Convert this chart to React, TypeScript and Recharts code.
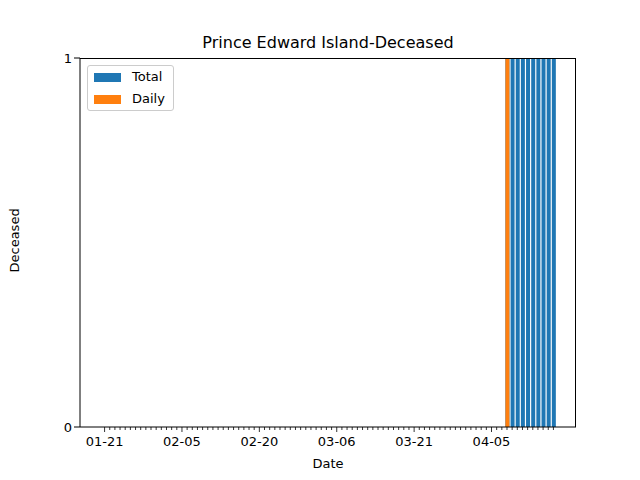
import { Bar, BarChart, XAxis, YAxis } from "recharts";

// 2020-01-21 .. 2020-04-17, one entry per day
const dates: string[] = [];
for (let d = new Date(Date.UTC(2020, 0, 21)); d <= new Date(Date.UTC(2020, 3, 17)); d.setUTCDate(d.getUTCDate() + 1)) {
  dates.push(`${String(d.getUTCMonth() + 1).padStart(2, "0")}-${String(d.getUTCDate()).padStart(2, "0")}`);
}
const firstDeath = dates.indexOf("04-08");
const total = dates.map((_, i) => (i >= firstDeath ? 1 : 0));
const daily = dates.map((_, i) => (i === firstDeath ? 1 : 0));
const labelEvery = 15;

const data = dates.map((date, i) => ({ date, total: total[i], daily: daily[i] }));

const font = "DejaVu Sans, sans-serif";

const DateTick = (props: any) => {
  const { x, y, payload, index } = props;
  const major = index % labelEvery === 0;
  return (
    <g>
      <line x1={x} x2={x} y1={y - 8} y2={y - 8 + (major ? 5 : 3)} stroke="#000" strokeWidth={0.8} />
      {major && (
        <text x={x} y={y + 11} textAnchor="middle" fontSize={13} fontFamily={font} fill="#000">
          {payload.value}
        </text>
      )}
    </g>
  );
};

const legendItems = [
  ["Total", "#1f77b4"],
  ["Daily", "#ff7f0e"],
];

export default function App() {
  return (
    <div style={{ position: "relative", width: 640, height: 480, margin: -8, background: "#fff" }}>
      <div
        style={{
          position: "absolute",
          top: 33,
          left: 80,
          width: 496,
          textAlign: "center",
          fontFamily: font,
          fontSize: 16,
        }}
      >
        Prince Edward Island-Deceased
      </div>
      <BarChart width={640} height={480} data={data} margin={{ top: 58, right: 64, left: 0, bottom: 0 }}>
        <XAxis
          xAxisId="a"
          dataKey="date"
          height={53}
          interval={0}
          tick={<DateTick />}
          tickLine={false}
          padding={{ left: 22, right: 20 }}
          stroke="#000"
          label={{ value: "Date", position: "insideBottom", offset: 12, fill: "#000", fontSize: 13, fontFamily: font }}
        />
        <XAxis xAxisId="b" dataKey="date" hide padding={{ left: 22, right: 20 }} />
        <YAxis
          width={80}
          domain={[0, 1]}
          ticks={[0, 1]}
          stroke="#000"
          tick={{ fill: "#000", fontSize: 13, fontFamily: font }}
          label={{ value: "Deceased", angle: -90, position: "insideLeft", offset: 14, fill: "#000", fontSize: 13, fontFamily: font, dy: 30 }}
        />
        <Bar xAxisId="a" dataKey="total" fill="#1f77b4" barSize={4} isAnimationActive={false} />
        <Bar xAxisId="b" dataKey="daily" fill="#ff7f0e" barSize={4} isAnimationActive={false} />
      </BarChart>
      <div style={{ position: "absolute", top: 58, left: 575, width: 0, height: 369, borderRight: "1px solid #000" }} />
      <div style={{ position: "absolute", top: 58, left: 80, width: 496, height: 0, borderTop: "1px solid #000" }} />
      <div
        style={{
          position: "absolute",
          top: 65,
          left: 87,
          border: "1px solid #ccc",
          borderRadius: 3,
          background: "#fff",
          padding: "0px 8px 0 6px",
          fontFamily: font,
          fontSize: 13,
          lineHeight: "22px",
        }}
      >
        {legendItems.map(([n, c]) => (
          <div key={n} style={{ display: "flex", alignItems: "center" }}>
            <span style={{ display: "inline-block", width: 27, height: 9, background: c, marginRight: 11 }} />
            {n}
          </div>
        ))}
      </div>
    </div>
  );
}
